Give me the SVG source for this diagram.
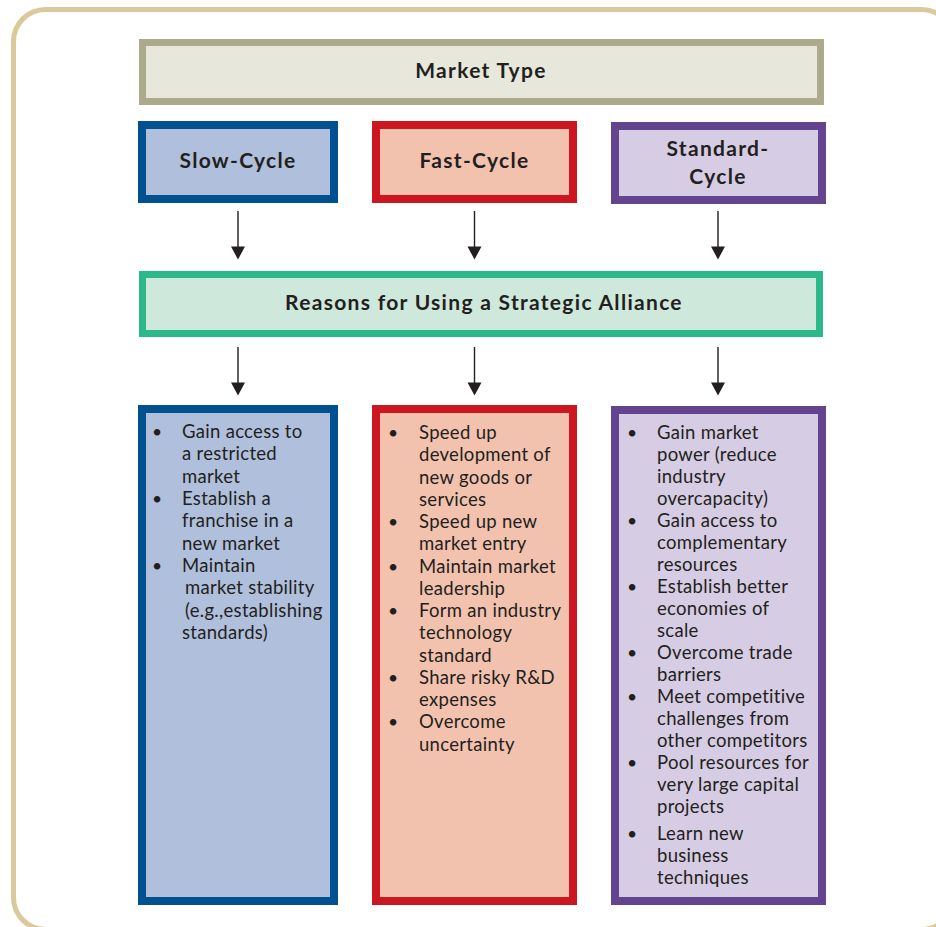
<svg xmlns="http://www.w3.org/2000/svg" width="936" height="927" viewBox="0 0 936 927">
<style>
.h{font-family:Lato,"Open Sans","Liberation Sans",sans-serif;font-weight:bold;font-size:21px;letter-spacing:1.3px;fill:#231f20;text-anchor:middle}
.t{font-family:Lato,"Open Sans","Liberation Sans",sans-serif;font-size:18.5px;letter-spacing:0.3px;fill:#231f20}
.b{font-family:Lato,"Open Sans","Liberation Sans",sans-serif;font-size:17.5px;fill:#231f20;text-anchor:middle}
.slow{fill:#afbfdc;stroke:#01508f;stroke-width:8}
.fast{fill:#f2c2ae;stroke:#cc1720;stroke-width:8}
.std{fill:#d6cce3;stroke:#62458e;stroke-width:8}
.arr{stroke:#231f20;stroke-width:1.4;fill:none}
.hd{fill:#231f20}
</style>
<rect x="13.5" y="9.5" width="940" height="920" rx="32" fill="#fff" stroke="#d9c99b" stroke-width="5"/>

<g id="market-type">
<rect x="142.5" y="42.5" width="678" height="59" fill="#e7e7dc" stroke="#abaa8b" stroke-width="7"/>
<text class="h" x="481" y="78">Market Type</text>
</g>
<g id="slow-cycle">
<rect class="slow" x="142" y="125" width="192" height="74"/>
<text class="h" x="238" y="168">Slow-Cycle</text>
</g>
<g id="fast-cycle">
<rect class="fast" x="376" y="125" width="197" height="74"/>
<text class="h" x="474.5" y="168">Fast-Cycle</text>
</g>
<g id="standard-cycle">
<rect class="std" x="615" y="126" width="207" height="74"/>
<text class="h" x="718" y="156">Standard-</text>
<text class="h" x="718" y="184">Cycle</text>
</g>
<g id="reasons">
<rect x="142.5" y="274.5" width="677" height="59" fill="#cfe8dc" stroke="#2bb98a" stroke-width="7"/>
<text class="h" x="484" y="310">Reasons for Using a Strategic Alliance</text>
</g>

<g id="slow-reasons">
<rect class="slow" x="142" y="409" width="192" height="492"/>
<text class="b" x="157"><tspan x="157" y="438">•</tspan><tspan x="157" y="505">•</tspan><tspan x="157" y="572">•</tspan></text>
<text class="t">
<tspan x="182" y="438">Gain access to</tspan>
<tspan x="182" y="460.3">a restricted</tspan>
<tspan x="182" y="482.6">market</tspan>
<tspan x="182" y="505">Establish a</tspan>
<tspan x="182" y="527.3">franchise in a</tspan>
<tspan x="182" y="549.6">new market</tspan>
<tspan x="182" y="572">Maintain</tspan>
<tspan x="185" y="594.3">market stability</tspan>
<tspan x="185" y="616.6">(e.g.,establishing</tspan>
<tspan x="182" y="639">standards)</tspan>
</text>
</g>

<g id="fast-reasons">
<rect class="fast" x="376" y="409" width="197" height="492"/>
<text class="b"><tspan x="393" y="439">•</tspan><tspan x="393" y="528">•</tspan><tspan x="393" y="572.5">•</tspan><tspan x="393" y="617">•</tspan><tspan x="393" y="683.5">•</tspan><tspan x="393" y="728">•</tspan></text>
<text class="t">
<tspan x="419" y="439">Speed up</tspan>
<tspan x="419" y="461.2">development of</tspan>
<tspan x="419" y="483.5">new goods or</tspan>
<tspan x="419" y="505.7">services</tspan>
<tspan x="419" y="528">Speed up new</tspan>
<tspan x="419" y="550.2">market entry</tspan>
<tspan x="419" y="572.5">Maintain market</tspan>
<tspan x="419" y="594.7">leadership</tspan>
<tspan x="419" y="617">Form an industry</tspan>
<tspan x="419" y="639.2">technology</tspan>
<tspan x="419" y="661.5">standard</tspan>
<tspan x="419" y="683.7">Share risky R&amp;D</tspan>
<tspan x="419" y="706">expenses</tspan>
<tspan x="419" y="728.2">Overcome</tspan>
<tspan x="419" y="750.5">uncertainty</tspan>
</text>
</g>

<g id="standard-reasons">
<rect class="std" x="615" y="410" width="207" height="491"/>
<text class="b"><tspan x="632" y="439">•</tspan><tspan x="632" y="527">•</tspan><tspan x="632" y="593">•</tspan><tspan x="632" y="659">•</tspan><tspan x="632" y="703">•</tspan><tspan x="632" y="769">•</tspan><tspan x="632" y="840">•</tspan></text>
<text class="t">
<tspan x="657" y="439">Gain market</tspan>
<tspan x="657" y="461">power (reduce</tspan>
<tspan x="657" y="483">industry</tspan>
<tspan x="657" y="505">overcapacity)</tspan>
<tspan x="657" y="527">Gain access to</tspan>
<tspan x="657" y="549">complementary</tspan>
<tspan x="657" y="571">resources</tspan>
<tspan x="657" y="593">Establish better</tspan>
<tspan x="657" y="615">economies of</tspan>
<tspan x="657" y="637">scale</tspan>
<tspan x="657" y="659">Overcome trade</tspan>
<tspan x="657" y="681">barriers</tspan>
<tspan x="657" y="703">Meet competitive</tspan>
<tspan x="657" y="725">challenges from</tspan>
<tspan x="657" y="747">other competitors</tspan>
<tspan x="657" y="769">Pool resources for</tspan>
<tspan x="657" y="791">very large capital</tspan>
<tspan x="657" y="813">projects</tspan>
<tspan x="657" y="840">Learn new</tspan>
<tspan x="657" y="862">business</tspan>
<tspan x="657" y="884">techniques</tspan>
</text>
</g>

<g id="connectors">
<path class="arr" d="M238 211V248M474.5 211V248M718 211V248M238 347V384M474.5 347V384M718 347V384"/>
<path class="hd" d="M231 246.5H245L238 259.5ZM467.5 246.5H481.5L474.5 259.5ZM711 246.5H725L718 259.5ZM231 382.5H245L238 395.5ZM467.5 382.5H481.5L474.5 395.5ZM711 382.5H725L718 395.5Z"/>
</g>
</svg>
